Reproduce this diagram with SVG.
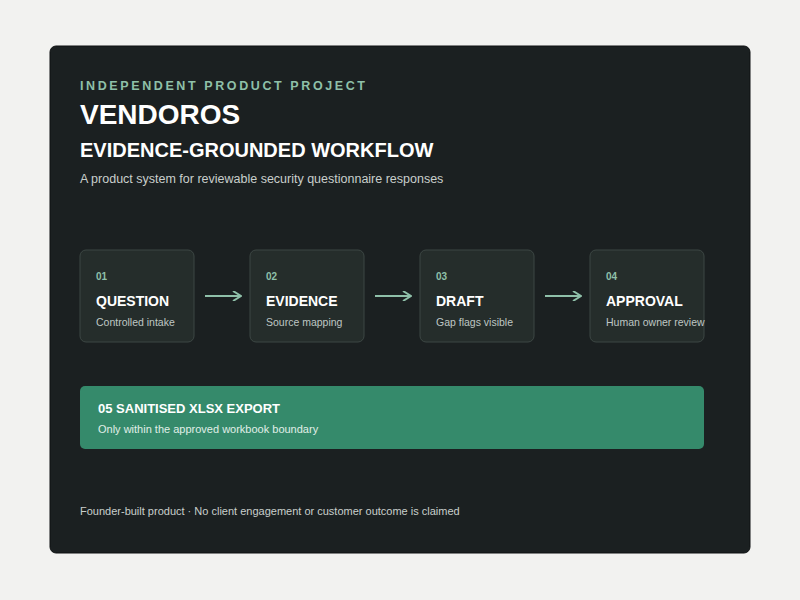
<svg xmlns="http://www.w3.org/2000/svg" width="800" height="600" viewBox="0 0 800 600">
<style>
text{font-family:"Liberation Sans",Arial,sans-serif}
.card{fill:#252d2b;stroke:#3d4744;stroke-width:1}
.num{fill:#8fc0a9;font-size:10px;font-weight:bold}
.ttl{fill:#ffffff;font-size:14px;font-weight:bold}
.sub{fill:#bfc7c4;font-size:10.5px}
.arr{stroke:#8fc0a9;stroke-width:2;fill:none}
</style>
<defs><marker id="ah" markerWidth="10" markerHeight="10" refX="8" refY="5" orient="auto" markerUnits="userSpaceOnUse"><path d="M1,0 L9,5 L1,10" fill="none" stroke="#8fc0a9" stroke-width="2"/></marker></defs>
<rect width="800" height="600" fill="#f2f2f0"/>
<rect x="50" y="46" width="700" height="507" rx="6" fill="#1b2021" stroke="#0e1112"/>
<text x="80" y="90" fill="#8fc0a9" font-size="12.5" font-weight="bold" letter-spacing="2.6">INDEPENDENT PRODUCT PROJECT</text>
<text x="80" y="124" fill="#ffffff" font-size="28" font-weight="bold">VENDOROS</text>
<text x="80" y="157" fill="#ffffff" font-size="20" font-weight="bold">EVIDENCE-GROUNDED WORKFLOW</text>
<text x="80" y="183" fill="#c9cfcc" font-size="12.5">A product system for reviewable security questionnaire responses</text>
<g id="n1"><rect class="card" x="80" y="250" width="114" height="92" rx="6"/><text class="num" x="96" y="280">01</text><text class="ttl" x="96" y="306">QUESTION</text><text class="sub" x="96" y="326">Controlled intake</text></g>
<g id="n2"><rect class="card" x="250" y="250" width="114" height="92" rx="6"/><text class="num" x="266" y="280">02</text><text class="ttl" x="266" y="306">EVIDENCE</text><text class="sub" x="266" y="326">Source mapping</text></g>
<g id="n3"><rect class="card" x="420" y="250" width="114" height="92" rx="6"/><text class="num" x="436" y="280">03</text><text class="ttl" x="436" y="306">DRAFT</text><text class="sub" x="436" y="326">Gap flags visible</text></g>
<g id="n4"><rect class="card" x="590" y="250" width="114" height="92" rx="6"/><text class="num" x="606" y="280">04</text><text class="ttl" x="606" y="306">APPROVAL</text><text class="sub" x="606" y="326">Human owner review</text></g>
<g id="connectors">
<line class="arr" x1="205" y1="296" x2="240" y2="296" marker-end="url(#ah)"/>
<line class="arr" x1="375" y1="296" x2="410" y2="296" marker-end="url(#ah)"/>
<line class="arr" x1="545" y1="296" x2="580" y2="296" marker-end="url(#ah)"/>
</g>
<g id="n5"><rect x="80" y="386" width="624" height="63" rx="5" fill="#358a6b"/><text x="98" y="413" fill="#ffffff" font-size="13" font-weight="bold">05 SANITISED XLSX EXPORT</text><text x="98" y="433" fill="#e0efe8" font-size="11">Only within the approved workbook boundary</text></g>
<text x="80" y="515" fill="#c9cfcc" font-size="11">Founder-built product · No client engagement or customer outcome is claimed</text>
</svg>
